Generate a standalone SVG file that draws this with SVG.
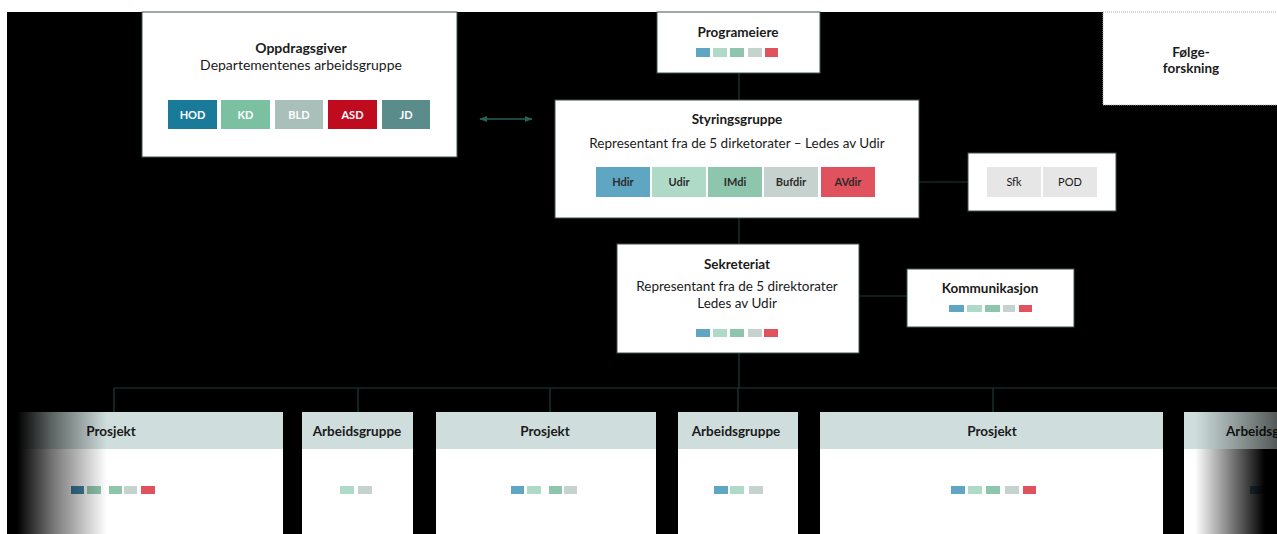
<svg xmlns="http://www.w3.org/2000/svg" width="1277" height="534" viewBox="0 0 1277 534">
<defs>
<style>
.bg{fill:#000}
.box{fill:#fff;stroke:#3a5450;stroke-width:1}
.conn{stroke:#1f3d39;stroke-width:1.2;fill:none}
.t{font-family:Lato,"Liberation Sans",sans-serif;fill:#1a1a1a;text-anchor:middle}
.b{font-weight:700}
.s13{font-size:13.5px}
.s14{font-size:14px}
.chipw{font-family:Lato,"Liberation Sans",sans-serif;font-size:11px;font-weight:700;fill:#fff;text-anchor:middle}
.chipd{font-family:Lato,"Liberation Sans",sans-serif;font-size:11px;font-weight:700;fill:#2b2b2b;text-anchor:middle}
.hdr{fill:#cfdedd}
.c1{fill:#5ea6c2}.c2{fill:#b0dac8}.c3{fill:#8ec6ad}.c4{fill:#c6d2ce}.c5{fill:#e0525e}
</style>
<marker id="ah" viewBox="0 0 10 10" refX="9" refY="5" markerWidth="6" markerHeight="6" orient="auto-start-reverse">
<path d="M0,1 L10,5 L0,9 Z" fill="#2a5f58"/>
</marker>
<linearGradient id="fadeL" x1="0" y1="0" x2="1" y2="0">
<stop offset="0" stop-color="#000" stop-opacity="1"/>
<stop offset="0.1" stop-color="#000" stop-opacity="1"/>
<stop offset="0.45" stop-color="#000" stop-opacity="0.55"/>
<stop offset="1" stop-color="#000" stop-opacity="0"/>
</linearGradient>
<linearGradient id="fadeR" x1="0" y1="0" x2="1" y2="0">
<stop offset="0" stop-color="#000" stop-opacity="0"/>
<stop offset="1" stop-color="#000" stop-opacity="1"/>
</linearGradient>
<linearGradient id="fadeRh" x1="0" y1="0" x2="1" y2="0">
<stop offset="0" stop-color="#000" stop-opacity="0"/>
<stop offset="1" stop-color="#000" stop-opacity="0.6"/>
</linearGradient>
</defs>
<rect x="0" y="0" width="1277" height="534" fill="#fff"/>
<rect class="bg" x="7" y="12" width="1270" height="522"/>

<g id="connectors">
<line x1="480" y1="119" x2="532" y2="119" stroke="#2a5f58" stroke-width="1.3" marker-start="url(#ah)" marker-end="url(#ah)"/>
<line class="conn" x1="739" y1="73" x2="739" y2="100"/>
<line class="conn" x1="919" y1="182" x2="968" y2="182"/>
<line class="conn" x1="739" y1="218" x2="739" y2="244"/>
<line class="conn" x1="859" y1="296" x2="907" y2="296"/>
<line class="conn" x1="739" y1="353" x2="739" y2="388"/>
<line class="conn" x1="114" y1="388" x2="1277" y2="388"/>
<line class="conn" x1="114" y1="388" x2="114" y2="412"/>
<line class="conn" x1="358" y1="388" x2="358" y2="412"/>
<line class="conn" x1="550" y1="388" x2="550" y2="412"/>
<line class="conn" x1="738" y1="388" x2="738" y2="412"/>
<line class="conn" x1="993" y1="388" x2="993" y2="412"/>
</g>

<g id="oppdragsgiver">
<rect class="box" x="142" y="12" width="315" height="145"/>
<text class="t b s14" x="301" y="53">Oppdragsgiver</text>
<text class="t s14" x="301" y="70">Departementenes arbeidsgruppe</text>
<rect x="168" y="100" width="49" height="29" fill="#1a7a9a"/>
<text class="chipw" x="192.5" y="119">HOD</text>
<rect x="221" y="100" width="49" height="29" fill="#7cc0a2"/>
<text class="chipw" x="245.5" y="119">KD</text>
<rect x="275" y="100" width="48" height="29" fill="#a9bfb9"/>
<text class="chipw" x="299" y="119">BLD</text>
<rect x="328" y="100" width="49" height="29" fill="#c00a1e"/>
<text class="chipw" x="352.5" y="119">ASD</text>
<rect x="382" y="100" width="48" height="29" fill="#5a8c8c"/>
<text class="chipw" x="406" y="119">JD</text>
</g>

<g id="programeiere">
<rect class="box" x="657" y="12" width="163" height="61"/>
<text class="t b s13" x="738" y="37">Programeiere</text>
<rect class="c1" x="696" y="48" width="14" height="9"/>
<rect class="c2" x="713" y="48" width="14" height="9"/>
<rect class="c3" x="730" y="48" width="14" height="9"/>
<rect class="c4" x="748" y="48" width="14" height="9"/>
<rect class="c5" x="765" y="48" width="13" height="9"/>
</g>

<g id="folgeforskning">
<rect x="1103" y="12" width="180" height="93" fill="#fff" stroke="#a8a8a8" stroke-width="1" stroke-dasharray="1,1"/>
<text class="t b s13" x="1191" y="57">Følge-</text>
<text class="t b s13" x="1191" y="73">forskning</text>
</g>

<g id="styringsgruppe">
<rect class="box" x="555" y="100" width="364" height="118"/>
<text class="t b s13" x="737" y="124">Styringsgruppe</text>
<text class="t s13" x="737" y="148">Representant fra de 5 dirketorater – Ledes av Udir</text>
<rect class="c1" x="596" y="167" width="54" height="30"/>
<text class="chipd" x="623" y="186">Hdir</text>
<rect class="c2" x="652" y="167" width="54" height="30"/>
<text class="chipd" x="679" y="186">Udir</text>
<rect class="c3" x="708" y="167" width="54" height="30"/>
<text class="chipd" x="735" y="186">IMdi</text>
<rect class="c4" x="764" y="167" width="54" height="30"/>
<text class="chipd" x="791" y="186">Bufdir</text>
<rect class="c5" x="821" y="167" width="54" height="30"/>
<text class="chipd" x="848" y="186">AVdir</text>
</g>

<g id="sfkpod">
<rect class="box" x="968" y="153" width="148" height="58"/>
<rect x="987" y="167" width="54" height="30" fill="#e6e6e6"/>
<text class="t" style="font-size:11px" x="1014" y="186">Sfk</text>
<rect x="1043" y="167" width="54" height="30" fill="#e6e6e6"/>
<text class="t" style="font-size:11px" x="1070" y="186">POD</text>
</g>

<g id="sekreteriat">
<rect class="box" x="617" y="244" width="242" height="109"/>
<text class="t b s13" x="737" y="269">Sekreteriat</text>
<text class="t s13" x="737" y="291">Representant fra de 5 direktorater</text>
<text class="t s13" x="737" y="308">Ledes av Udir</text>
<rect class="c1" x="696" y="329" width="14" height="8"/>
<rect class="c2" x="713" y="329" width="14" height="8"/>
<rect class="c3" x="730" y="329" width="14" height="8"/>
<rect class="c4" x="748" y="329" width="14" height="8"/>
<rect class="c5" x="764" y="329" width="14" height="8"/>
</g>

<g id="kommunikasjon">
<rect class="box" x="907" y="269" width="167" height="58"/>
<text class="t b s13" x="990" y="293">Kommunikasjon</text>
<rect class="c1" x="949" y="305" width="15" height="7"/>
<rect class="c2" x="967" y="305" width="15" height="7"/>
<rect class="c3" x="985" y="305" width="15" height="7"/>
<rect class="c4" x="1003" y="305" width="12" height="7"/>
<rect class="c5" x="1019" y="305" width="13" height="7"/>
</g>

<g id="prosjekt1">
<rect x="8" y="412" width="275" height="130" fill="#fff"/>
<rect class="hdr" x="8" y="412" width="275" height="37"/>
<text class="t b s13" x="111" y="436">Prosjekt</text>
<rect x="71" y="486" width="13" height="8" fill="#3f86a8"/>
<rect class="c3" x="87" y="486" width="14" height="8"/>
<rect class="c3" x="109" y="486" width="13" height="8"/>
<rect class="c4" x="124" y="486" width="13" height="8"/>
<rect class="c5" x="141" y="486" width="14" height="8"/>
</g>

<g id="arbeidsgruppe1">
<rect x="302" y="412" width="111" height="130" fill="#fff"/>
<rect class="hdr" x="302" y="412" width="111" height="37"/>
<text class="t b s13" x="357" y="436">Arbeidsgruppe</text>
<rect class="c2" x="340" y="486" width="14" height="8"/>
<rect class="c4" x="358" y="486" width="14" height="8"/>
</g>

<g id="prosjekt2">
<rect x="436" y="412" width="220" height="130" fill="#fff"/>
<rect class="hdr" x="436" y="412" width="220" height="37"/>
<text class="t b s13" x="545" y="436">Prosjekt</text>
<rect class="c1" x="511" y="486" width="13" height="8"/>
<rect class="c2" x="527" y="486" width="14" height="8"/>
<rect class="c3" x="549" y="486" width="13" height="8"/>
<rect class="c4" x="564" y="486" width="13" height="8"/>
</g>

<g id="arbeidsgruppe2">
<rect x="678" y="412" width="120" height="130" fill="#fff"/>
<rect class="hdr" x="678" y="412" width="120" height="37"/>
<text class="t b s13" x="736" y="436">Arbeidsgruppe</text>
<rect class="c1" x="714" y="486" width="14" height="8"/>
<rect class="c2" x="730" y="486" width="14" height="8"/>
<rect class="c4" x="749" y="486" width="14" height="8"/>
</g>

<g id="prosjekt3">
<rect x="820" y="412" width="343" height="130" fill="#fff"/>
<rect class="hdr" x="820" y="412" width="343" height="37"/>
<text class="t b s13" x="992" y="436">Prosjekt</text>
<rect class="c1" x="951" y="486" width="14" height="8"/>
<rect class="c2" x="968" y="486" width="14" height="8"/>
<rect class="c3" x="986" y="486" width="14" height="8"/>
<rect class="c4" x="1005" y="486" width="14" height="8"/>
<rect class="c5" x="1023" y="486" width="13" height="8"/>
</g>

<g id="arbeidsgruppe3">
<rect x="1184" y="412" width="100" height="130" fill="#fff"/>
<rect class="hdr" x="1184" y="412" width="100" height="37"/>
<text class="t b s13" x="1226" y="436" style="text-anchor:start">Arbeidsgruppe</text>
<rect class="c1" x="1250" y="486" width="14" height="8"/>
<rect class="c2" x="1267" y="486" width="14" height="8"/>
</g>

<rect x="7" y="412" width="100" height="122" fill="url(#fadeL)"/>
<rect x="1195" y="449" width="70" height="85" fill="url(#fadeR)"/>
<rect x="1265" y="449" width="12" height="85" fill="#000"/>
<rect x="1195" y="412" width="82" height="37" fill="url(#fadeRh)"/>
</svg>
